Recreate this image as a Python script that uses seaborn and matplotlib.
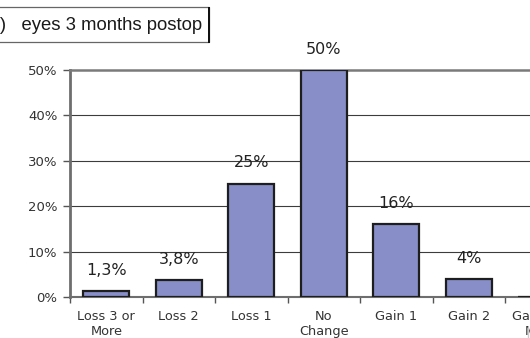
import matplotlib
matplotlib.use("Agg")
import matplotlib.pyplot as plt
from matplotlib.patches import Rectangle
from matplotlib.lines import Line2D
import pandas as pd
import seaborn as sns

categories = ["Loss 3 or\nMore", "Loss 2", "Loss 1", "No\nChange", "Gain 1", "Gain 2", "Gain 3 or\nMore"]
values = [1.3, 3.8, 25, 50, 16, 4, 0]
value_labels = ["1,3%", "3,8%", "25%", "50%", "16%", "4%", "0%"]
yticks = [0, 10, 20, 30, 40, 50]
ytick_labels = ["0%", "10%", "20%", "30%", "40%", "50%"]
title = "Lines of BCVA (n=50)   eyes 3 months postop"

df = pd.DataFrame({"category": categories, "value": values})

sns.set_theme(style="white")
plt.rcParams["font.family"] = ["DejaVu Sans"]

W, H = 530, 338
fig = plt.figure(figsize=(W / 100, H / 100), dpi=100)
fig.patch.set_facecolor("white")

# plot area: 72.5 px per category, starting at x=70, 0% at y=297, 50% at y=70
left, right = 70, 70 + 72.5 * 7
top, bottom = 70, 297
ax = fig.add_axes([left / W, (H - bottom) / H, (right - left) / W, (bottom - top) / H])

sns.barplot(data=df, x="category", y="value", ax=ax, color="#888ec8",
            saturation=1, width=0.63, edgecolor="#1e1e1e", linewidth=1.6, zorder=3)

ax.set_xlim(-0.5, len(categories) - 0.5)
ax.set_ylim(0, 50)
ax.set_yticks(yticks)
ax.set_yticklabels(ytick_labels, fontsize=9.5, color="#333333")
ax.set_xticks(range(len(categories)))
ax.set_xticklabels(categories, fontsize=9.3, color="#333333", linespacing=1.15)
ax.set_xlabel("")
ax.set_ylabel("")

# horizontal gridlines
for t in yticks[1:-1]:
    ax.axhline(t, color="#3c3c3c", linewidth=0.8, zorder=1)

ax.spines["right"].set_visible(False)
ax.spines["top"].set_color("#7a7a7a")
ax.spines["top"].set_linewidth(1.8)
ax.spines["left"].set_color("#6e6e6e")
ax.spines["left"].set_linewidth(2.0)
ax.spines["bottom"].set_color("#6e6e6e")
ax.spines["bottom"].set_linewidth(1.5)

# y ticks outward on the left, x tick marks at category boundaries
ax.tick_params(axis="y", which="both", direction="out", length=5, width=1,
               color="#555555", left=True, pad=4)
ax.tick_params(axis="x", which="major", length=0, pad=9.5)
ax.set_xticks([i - 0.5 for i in range(len(categories) + 1)], minor=True)
ax.tick_params(axis="x", which="minor", direction="out", length=4, width=1,
               color="#555555", bottom=True)

# value labels above the bars
for i, (v, lab) in enumerate(zip(values, value_labels)):
    ax.annotate(lab, xy=(i, v), xytext=(0, 14.8), textcoords="offset points",
                ha="center", va="center", fontsize=11.5, color="#222222", zorder=4)

# title box, partly running off the left edge
fig.patches.append(Rectangle((-20 / W, (H - 42) / H), 229 / W, 34.5 / H,
                             transform=fig.transFigure, facecolor="white",
                             edgecolor="#666666", linewidth=0.9))
fig.patches.append(Rectangle((208.3 / W, (H - 43) / H), 1.5 / W, 35.5 / H,
                             transform=fig.transFigure, facecolor="#111111",
                             edgecolor="none"))
fig.text(202 / W, (H - 25) / H, title, ha="right", va="center",
         fontsize=13.3, color="#1a1a1a", family=["Liberation Sans"])

# edge of a neighbouring frame at the lower right
fig.add_artist(Line2D([527.5 / W, 527.5 / W], [0, 11 / H], transform=fig.transFigure,
                      color="#cccccc", linewidth=1))

fig.savefig("out.png", dpi=100, facecolor="white")
